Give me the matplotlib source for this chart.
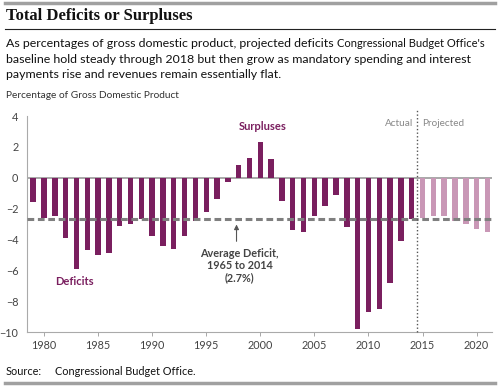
import matplotlib
matplotlib.use('Agg')
import matplotlib.pyplot as plt
from matplotlib.lines import Line2D

### data ###
actual_years = list(range(1979, 2015))
actual_vals = [-1.6, -2.6, -2.5, -3.9, -5.9, -4.7, -5.0, -4.9, -3.1, -3.0,
               -2.7, -3.8, -4.4, -4.6, -3.8, -2.8, -2.2, -1.4, -0.3, 0.8,
               1.3, 2.3, 1.2, -1.5, -3.4, -3.5, -2.5, -1.8, -1.1, -3.2,
               -9.8, -8.7, -8.5, -6.8, -4.1, -2.7]
proj_years = list(range(2015, 2022))
proj_vals = [-2.6, -2.5, -2.5, -2.8, -3.0, -3.3, -3.5]
avg_deficit = -2.7
xticks = [1980, 1985, 1990, 1995, 2000, 2005, 2010, 2015, 2020]
yticks = [-10, -8, -6, -4, -2, 0, 2, 4]

DARK = '#7a1f5f'
LIGHT = '#c997b6'
GRAY = '#7f7f7f'

plt.rcParams['font.family'] = ['Lato', 'DejaVu Sans']

fig = plt.figure(figsize=(5.0, 3.89), dpi=100)
ax = fig.add_axes([0.0534, 0.1465, 0.9312, 0.571])

# header / footer rules
fig.add_artist(Line2D([0.01, 0.99], [0.993, 0.993], color='#a0a0a0', lw=2.5))
fig.add_artist(Line2D([0.01, 0.99], [0.925, 0.925], color='#222222', lw=0.8))
fig.add_artist(Line2D([0.01, 0.99], [0.015, 0.015], color='#a0a0a0', lw=2.5))

fig.text(0.012, 0.958, 'Total Deficits or Surpluses', family='Liberation Serif',
         weight='bold', fontsize=12, va='center', color='#111111')
t1 = fig.text(0.012, 0.888, 'As percentages of gross domestic product, projected deficits ',
              fontsize=8.9, va='center', color='#111111')
ax.annotate("Congressional Budget Office's", xy=(1, 0.5), xycoords=t1, va='center',
            fontsize=8.0, color='#111111', annotation_clip=False)
fig.text(0.012, 0.848, 'baseline hold steady through 2018 but then grow as mandatory spending and interest',
         fontsize=8.9, va='center', color='#111111')
fig.text(0.012, 0.808, 'payments rise and revenues remain essentially flat.',
         fontsize=8.9, va='center', color='#111111')
fig.text(0.012, 0.755, 'Percentage of Gross Domestic Product', fontsize=7.3,
         va='center', color='#333333')
fig.text(0.012, 0.045, 'Source:', fontsize=7.8, va='center', color='#111111')
fig.text(0.11, 0.045, 'Congressional Budget Office.', fontsize=7.8, va='center', color='#111111')

ax.bar(actual_years, actual_vals, width=0.5, color=DARK, zorder=2)
ax.bar(proj_years, proj_vals, width=0.5, color=LIGHT, zorder=2)
ax.axhline(0, color='#9a9a9a', lw=1.2, zorder=1)
ax.axhline(avg_deficit, color=GRAY, lw=2.2, ls=(0, (2.2, 1.2)), zorder=3)

ax.set_xlim(1978.4, 2021.45)
ax.set_ylim(-10, 4.4)
ax.set_xticks(xticks)
ax.set_yticks(yticks)
ax.tick_params(axis='x', length=3, width=0.6, color='#999999', labelsize=7.8,
               labelcolor='#444444', pad=3)
ax.tick_params(axis='y', length=0, labelsize=7.8, labelcolor='#444444', pad=6)
for s in ['top', 'right']:
    ax.spines[s].set_visible(False)
for s in ['left', 'bottom']:
    ax.spines[s].set_color('#aaaaaa')
    ax.spines[s].set_linewidth(0.8)
ax.spines['left'].set_bounds(-10, 4)

# actual / projected divider
ax.plot([2014.5, 2014.5], [-10, 4.45], color='#555555', lw=1.0, ls=(0, (1, 1.6)),
        clip_on=False, zorder=4)
ax.text(2014.15, 3.5, 'Actual', ha='right', va='center', fontsize=7.2, color='#888888')
ax.text(2014.95, 3.5, 'Projected', ha='left', va='center', fontsize=7.2, color='#888888')

ax.text(2000.2, 3.3, 'Surpluses', ha='center', va='center', fontsize=8,
        weight='bold', color=DARK)
ax.text(1982.8, -6.75, 'Deficits', ha='center', va='center', fontsize=8,
        weight='bold', color=DARK)
ax.annotate('', xy=(1997.8, -2.85), xytext=(1997.8, -4.3),
            arrowprops=dict(arrowstyle='-|>', color='#555555', lw=0.8,
                            mutation_scale=7))
ax.text(1998.1, -5.7, 'Average Deficit,\n1965 to 2014\n(2.7%)', ha='center',
        va='center', fontsize=7.8, weight='bold', color='#444444', linespacing=1.15)

fig.savefig('out.png', dpi=100)
